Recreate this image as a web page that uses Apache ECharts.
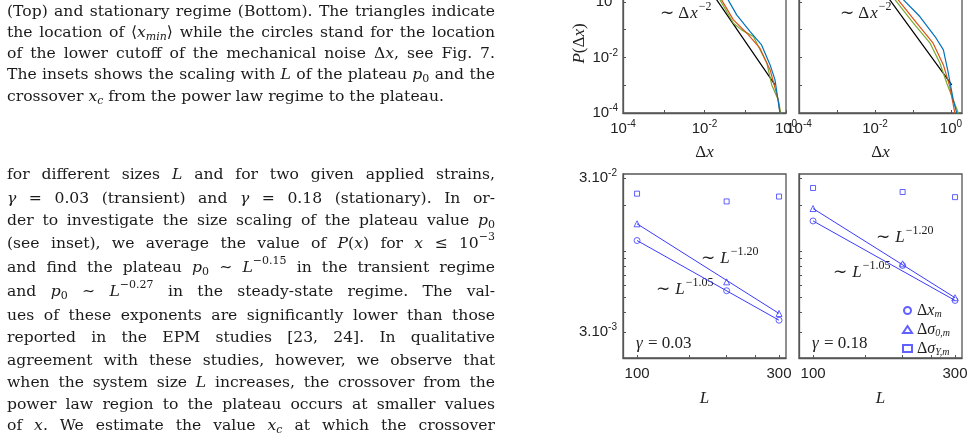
<!DOCTYPE html>
<html>
<head>
<meta charset="utf-8">
<script src="https://cdn.jsdelivr.net/npm/echarts@6/dist/echarts.min.js"></script>
<style>html,body{margin:0;padding:0;background:#fff}#main{width:973px;height:435px}</style>
</head>
<body>
<div id="main"></div>
<script>
// top panels: curves read as [log10 Δx, log10 P]
var topLeftBlue = [[-1.87, 1], [-1.42, 0.07], [-1.21, -0.47], [-0.88, -1.07], [-0.60, -1.55], [-0.39, -2.27], [-0.27, -2.81], [-0.15, -3.99], [-0.12, -4.3]];
var topLeftOrange = [[-2.03, 1], [-1.58, 0.07], [-1.29, -0.65], [-0.96, -1.13], [-0.64, -1.67], [-0.39, -2.45], [-0.19, -3.53], [-0.15, -3.99], [-0.13, -4.3]];
var topLeftGreen = [[-2.07, 1], [-1.62, 0.07], [-1.29, -0.77], [-1.09, -1.01], [-0.80, -1.25], [-0.47, -2.21], [-0.35, -2.99], [-0.19, -3.53], [-0.13, -3.99], [-0.11, -4.3]];
var topLeftBlack = [[-2.15, 1], [-1.70, 0.07], [-0.27, -2.99]];
var topRightBlue = [[-1.70, 1], [-1.25, 0.07], [-0.82, -0.53], [-0.42, -1.25], [-0.20, -1.73], [-0.07, -2.57], [0.06, -3.53], [0.15, -3.99], [0.18, -4.3]];
var topRightOrange = [[-1.84, 1], [-1.39, 0.07], [-0.90, -0.77], [-0.47, -1.49], [-0.20, -2.27], [-0.03, -3.05], [0.10, -3.99], [0.12, -4.3]];
var topRightGreen = [[-1.92, 1], [-1.47, 0.07], [-0.99, -0.77], [-0.55, -1.49], [-0.29, -2.21], [-0.11, -2.93], [0.19, -3.99], [0.22, -4.3]];
var topRightBlack = [[-2.06, 1], [-1.61, 0.07], [0.02, -2.99]];

// bottom panels: L and values
var sizes = [100, 200, 300];
var leftXm = [0.01176, 0.00555, 0.00357];
var leftS0 = [0.0151, 0.00634, 0.00395];
var leftSY = [0.0237, 0.0211, 0.0227];
var rightXm = [0.01576, 0.0081, 0.0048];
var rightS0 = [0.01897, 0.0083, 0.0050];
var rightSY = [0.0258, 0.0243, 0.0225];
var fitSizes = [100, 300];
var leftFitXm = [0.01176, 0.00357];
var leftFitS0 = [0.0151, 0.00395];
var rightFitXm = [0.01576, 0.0048];
var rightFitS0 = [0.01897, 0.0050];

var topXTicks = [-4, -3, -2, -1, 0];
var topXLabels = [-4, -2, 0];
var topYTicks = [-4, -3, -2, -1, 0];
var topYLabels = [-4, -2, 0];
var botXTicks = [100, 150, 200, 250, 300];
var botXLabels = [100, 300];
var botYTicks = [0.002, 0.003, 0.004, 0.005, 0.006, 0.007, 0.008, 0.009, 0.01, 0.02, 0.03];
var botYLabels = [0.003, 0.03];

var BLUE = '#3a3aff';
var lg = Math.log10;

var sup = {b: {fontSize: 15, fontFamily: 'Liberation Sans', color: '#222'}, s: {fontSize: 10, fontFamily: 'Liberation Sans', color: '#222', verticalAlign: 'top', padding: [0, 0, 9, 0]}};

function pow10Label(v) { return '{b|10}{s|' + Math.round(v) + '}'; }
function threeLabel(v) {
  var e = Math.round(lg(v / 3));
  return '{b|3.10}{s|' + e + '}';
}

var axBase = {
  type: 'value',
  axisLine: {show: true, onZero: false, lineStyle: {color: '#555', width: 1.3}},
  splitLine: {show: false},
  axisTick: {inside: true, length: 3, lineStyle: {color: '#555'}},
  axisLabel: {color: '#222', rich: sup}
};
function ax(extra) { return Object.assign({}, JSON.parse(JSON.stringify(axBase)), extra); }
var nameSerif = {fontFamily: 'Liberation Serif', fontSize: 17, color: '#222', rich: {i: {fontFamily: 'Liberation Serif', fontStyle: 'italic', fontSize: 17, color: '#222'}}};
function lLabel(v) { return '{b|' + Math.round(Math.pow(10, v)) + '}'; }

var xAxes = [
  ax({gridIndex: 0, min: -4, max: 0, axisTick: Object.assign({}, axBase.axisTick, {customValues: topXTicks}),
      axisLabel: {customValues: topXLabels, formatter: pow10Label, rich: sup, margin: 6},
      name: 'Δ{i|x}', nameLocation: 'middle', nameGap: 31, nameTextStyle: nameSerif}),
  ax({gridIndex: 1, min: -4, max: 0.29, axisTick: Object.assign({}, axBase.axisTick, {customValues: topXTicks}),
      axisLabel: {customValues: topXLabels, formatter: pow10Label, rich: sup, margin: 6},
      name: 'Δ{i|x}', nameLocation: 'middle', nameGap: 31, nameTextStyle: nameSerif}),
  ax({gridIndex: 2, min: lg(89.7), max: lg(316.6), axisTick: Object.assign({}, axBase.axisTick, {customValues: botXTicks.map(lg)}),
      axisLabel: {customValues: botXLabels.map(lg), formatter: lLabel, rich: sup, margin: 8},
      name: '{i|L}', nameLocation: 'middle', nameGap: 32, nameTextStyle: nameSerif}),
  ax({gridIndex: 3, min: lg(89.7), max: lg(316.6), axisTick: Object.assign({}, axBase.axisTick, {customValues: botXTicks.map(lg)}),
      axisLabel: {customValues: botXLabels.map(lg), formatter: lLabel, rich: sup, margin: 8},
      name: '{i|L}', nameLocation: 'middle', nameGap: 32, nameTextStyle: nameSerif})
];
var yAxes = [
  ax({gridIndex: 0, min: -4, max: 1, axisTick: Object.assign({}, axBase.axisTick, {customValues: topYTicks}),
      axisLabel: {customValues: topYLabels, formatter: pow10Label, rich: sup, margin: 5},
      name: '{i|P}(Δ{i|x})', nameLocation: 'middle', nameGap: 27, nameRotate: 90, nameTextStyle: nameSerif}),
  ax({gridIndex: 1, min: -4, max: 1, axisTick: Object.assign({}, axBase.axisTick, {customValues: topYTicks}), axisLabel: {show: false}}),
  ax({gridIndex: 2, min: lg(0.00203), max: lg(0.0318), axisTick: Object.assign({}, axBase.axisTick, {customValues: botYTicks.map(lg)}),
      axisLabel: {customValues: botYLabels.map(lg), formatter: function (v) { return threeLabel(Math.pow(10, v)); }, rich: sup, margin: 6}}),
  ax({gridIndex: 3, min: lg(0.00203), max: lg(0.0318), axisTick: Object.assign({}, axBase.axisTick, {customValues: botYTicks.map(lg)}), axisLabel: {show: false}})
];

var grids = [
  {left: 623, top: -26, width: 163, height: 139},
  {left: 799, top: -26, width: 163, height: 139},
  {left: 623, top: 174, width: 163, height: 184},
  {left: 799, top: 174, width: 163, height: 184}
].map(function (g) { return Object.assign(g, {show: true, borderColor: '#555', borderWidth: 1.3, outerBoundsMode: 'none', containLabel: false}); });

function curve(data, color, gi) {
  return {type: 'line', xAxisIndex: gi, yAxisIndex: gi, data: data, showSymbol: false, symbol: 'none', clip: true,
          lineStyle: {color: color, width: 1.2}, silent: true};
}
function pts(xs, ys) { return xs.map(function (x, i) { return [lg(x), lg(ys[i])]; }); }
function marks(name, sym, xs, ys, gi) {
  return {type: 'scatter', name: name, xAxisIndex: gi, yAxisIndex: gi, data: pts(xs, ys), symbol: sym, symbolSize: sym === 'rect' ? 5 : 6,
          itemStyle: {color: '#fff', borderColor: BLUE, borderWidth: 1}};
}
function fit(xs, ys, gi) {
  return {type: 'line', xAxisIndex: gi, yAxisIndex: gi, data: pts(xs, ys), symbol: 'none', lineStyle: {color: BLUE, width: 1}, silent: true};
}
var N1 = 'xm', N2 = 's0', N3 = 'sy';

var series = [
  curve(topLeftBlack, '#000', 0), curve(topLeftGreen, '#77AC30', 0), curve(topLeftOrange, '#D95319', 0), curve(topLeftBlue, '#0072BD', 0),
  curve(topRightBlack, '#000', 1), curve(topRightGreen, '#77AC30', 1), curve(topRightOrange, '#D95319', 1), curve(topRightBlue, '#0072BD', 1),
  fit(fitSizes, leftFitXm, 2), fit(fitSizes, leftFitS0, 2), fit(fitSizes, rightFitXm, 3), fit(fitSizes, rightFitS0, 3),
  marks(N1, 'circle', sizes, leftXm, 2), marks(N2, 'triangle', sizes, leftS0, 2), marks(N3, 'rect', sizes, leftSY, 2),
  marks(N1, 'circle', sizes, rightXm, 3), marks(N2, 'triangle', sizes, rightS0, 3), marks(N3, 'rect', sizes, rightSY, 3)
];

var legendNames = {xm: 'Δ{i|x}{sb|m}', s0: 'Δ{i|σ}{sb|0,m}', sy: 'Δ{i|σ}{sb|Y,m}'};
var serif = {fontFamily: 'Liberation Serif', fontSize: 16, color: '#222'};
var legendRich = {
  i: Object.assign({}, serif, {fontStyle: 'italic'}),
  sb: Object.assign({}, serif, {fontStyle: 'italic', fontSize: 10, verticalAlign: 'bottom', padding: [7, 0, 0, 0]})
};

// paragraph text
var para = [
  {y: 12, j: true, t: '(Top) and stationary regime (Bottom). The triangles indicate'},
  {y: 33, j: true, t: 'the location of ⟨*x*%min%⟩ while the circles stand for the location'},
  {y: 54, j: true, t: 'of the lower cutoff of the mechanical noise Δ*x*, see Fig. 7.'},
  {y: 75, j: true, t: 'The insets shows the scaling with *L* of the plateau *p*~0~ and the'},
  {y: 97, j: false, t: 'crossover *x*%c% from the power law regime to the plateau.'},
  {y: 175, j: true, t: 'for different sizes *L* and for two given applied strains,'},
  {y: 199, j: true, t: '*γ* = 0.03 (transient) and *γ* = 0.18 (stationary). In or-'},
  {y: 221, j: true, t: 'der to investigate the size scaling of the plateau value *p*~0~'},
  {y: 244, j: true, t: '(see inset), we average the value of *P*(*x*) for *x* ≤ 10^−3^'},
  {y: 268, j: true, t: 'and find the plateau *p*~0~ ∼ *L*^−0.15^ in the transient regime'},
  {y: 292, j: true, t: 'and *p*~0~ ∼ *L*^−0.27^ in the steady-state regime. The val-'},
  {y: 316, j: true, t: 'ues of these exponents are significantly lower than those'},
  {y: 338, j: true, t: 'reported in the EPM studies [23, 24]. In qualitative'},
  {y: 361, j: true, t: 'agreement with these studies, however, we observe that'},
  {y: 383, j: true, t: 'when the system size *L* increases, the crossover from the'},
  {y: 405, j: true, t: 'power law region to the plateau occurs at smaller values'},
  {y: 426, j: true, t: 'of *x*. We estimate the value *x*%c% at which the crossover'}
];

var FS = 15.6;
var ctx = document.createElement('canvas').getContext('2d');
function fontOf(st) {
  var size = st.small ? 11 : FS;
  return (st.it ? 'italic ' : '') + size + 'px "DejaVu Serif"';
}
function parseWord(w) {
  var segs = [], cur = '', st = {it: false, sup: false, sub: false, isub: false};
  function flush() {
    if (!cur) return;
    segs.push({text: cur, it: st.it || st.isub, small: st.sup || st.sub || st.isub, dy: st.sup ? -7 : (st.sub || st.isub ? 4 : 0)});
    cur = '';
  }
  for (var k = 0; k < w.length; k++) {
    var c = w[k];
    if (c === '*') { flush(); st.it = !st.it; }
    else if (c === '^') { flush(); st.sup = !st.sup; }
    else if (c === '~') { flush(); st.sub = !st.sub; }
    else if (c === '%') { flush(); st.isub = !st.isub; }
    else cur += c;
  }
  flush();
  segs.forEach(function (s) { ctx.font = fontOf(s); s.w = ctx.measureText(s.text).width; });
  return segs;
}
var graphics = [];
var L0 = 7, R0 = 495;
ctx.font = fontOf({});
var spaceW = ctx.measureText(' ').width;
para.forEach(function (ln) {
  var words = ln.t.split(' ').map(parseWord);
  var widths = words.map(function (ws) { return ws.reduce(function (a, s) { return a + s.w; }, 0); });
  var total = widths.reduce(function (a, b) { return a + b; }, 0);
  var gap = ln.j ? (R0 - L0 - total) / (words.length - 1) : spaceW;
  // if the line is too long for the column, squeeze it horizontally
  var sx = 1;
  if (gap < 3) { gap = 3; sx = (R0 - L0 - gap * (words.length - 1)) / total; }
  var x = L0;
  words.forEach(function (ws) {
    ws.forEach(function (s) {
      graphics.push({type: 'text', x: x, y: ln.y + s.dy, scaleX: sx, style: {text: s.text, x: 0, y: 0, font: fontOf(s), fill: '#1a1a1a', verticalAlign: 'middle'}});
      x += s.w * sx;
    });
    x += gap;
  });
});

// annotations in panels
var AF = 17;
function ann(x, y, pre, base, exp) {
  var parts = [['∼ ' + pre, AF + 'px "Liberation Serif"', 0], [base, 'italic ' + AF + 'px "Liberation Serif"', 0], [exp, '12px "Liberation Serif"', -7]];
  parts.forEach(function (p) {
    graphics.push({type: 'text', style: {text: p[0], x: x, y: y + p[2], font: p[1], fill: '#222', verticalAlign: 'middle'}});
    ctx.font = p[1];
    x += ctx.measureText(p[0]).width + 1;
  });
}
ann(660, 14, 'Δ', 'x', '−2');
ann(840, 14, 'Δ', 'x', '−2');
ann(701, 259, '', 'L', '−1.20');
ann(656, 290, '', 'L', '−1.05');
ann(876, 238, '', 'L', '−1.20');
ann(833, 273, '', 'L', '−1.05');
[[636, 344, '0.03'], [812, 344, '0.18']].forEach(function (g) {
  graphics.push({type: 'text', style: {text: 'γ', x: g[0], y: g[1], font: 'italic ' + AF + 'px "Liberation Serif"', fill: '#222', verticalAlign: 'middle'}});
  graphics.push({type: 'text', style: {text: '= ' + g[2], x: g[0] + 12, y: g[1], font: AF + 'px "Liberation Serif"', fill: '#222', verticalAlign: 'middle'}});
});

var chart = echarts.init(document.getElementById('main'));
chart.setOption({
  animation: false,
  grid: grids,
  xAxis: xAxes,
  yAxis: yAxes,
  legend: {
    data: [N1, N2, N3], orient: 'vertical', left: 902, top: 302, itemGap: 2, itemWidth: 9, itemHeight: 7, padding: 0,
    formatter: function (n) { return legendNames[n]; },
    textStyle: Object.assign({}, serif, {rich: legendRich, lineHeight: 17})
  },
  series: series,
  graphic: graphics
});
</script>
</body>
</html>
